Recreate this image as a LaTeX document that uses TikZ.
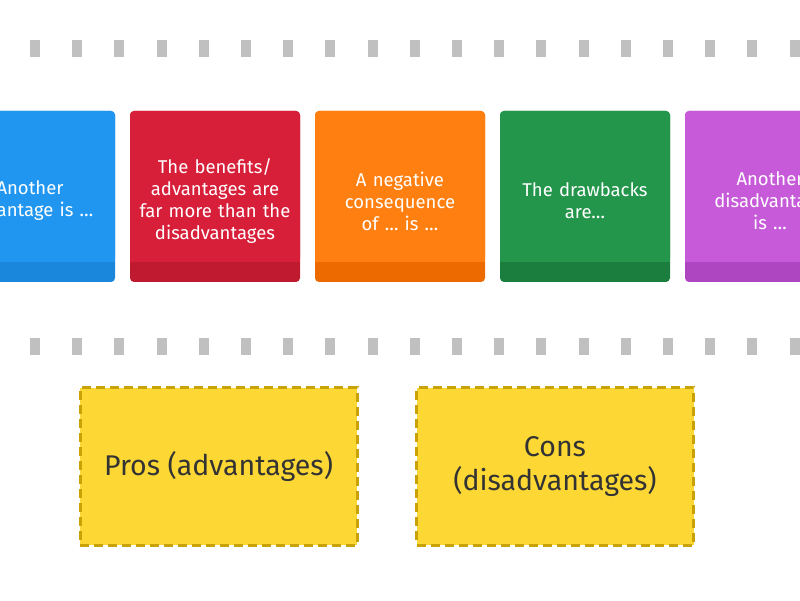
\documentclass[tikz,border=0pt]{standalone}
\usepackage{fontspec}
\setmainfont{Fira Sans}
\definecolor{cblue}{HTML}{2196F0}\definecolor{cblueD}{HTML}{1A86DC}
\definecolor{cred}{HTML}{D81F3A}\definecolor{credD}{HTML}{C01A30}
\definecolor{corange}{HTML}{FF7F10}\definecolor{corangeD}{HTML}{EC6A00}
\definecolor{cgreen}{HTML}{24964C}\definecolor{cgreenD}{HTML}{1C7E3E}
\definecolor{cpurple}{HTML}{C65AD8}\definecolor{cpurpleD}{HTML}{AE46C2}
\definecolor{ybox}{HTML}{FDD835}\definecolor{yline}{HTML}{C9A208}
\definecolor{dashc}{HTML}{C0C0C0}
\tikzset{
 cardtext/.style={text=white,align=center,font=\fontsize{18.5}{22}\selectfont,text width=165pt},
 ybx/.style={fill=ybox,draw=yline,line width=3pt,dash pattern=on 9pt off 5pt,minimum width=277pt,minimum height=157pt,align=center,font=\fontsize{28.5}{34}\selectfont,text=black!80},
}
\newcommand{\card}[5]{%
 \fill[#3,rounded corners=4pt] (#1,318) rectangle ++(170,171);
 \fill[#2,rounded corners=4pt] (#1,338) rectangle ++(170,151);
 \fill[#2] (#1,338) rectangle ++(170,10);
 \node[cardtext] (#4) at (#1+85,399) {#5};}
\begin{document}
\begin{tikzpicture}[x=1pt,y=1pt]
\useasboundingbox (0,0) rectangle (800,600);
\clip (0,0) rectangle (800,600);
\foreach \i in {0,...,18}{
 \fill[dashc] (30+42.2*\i,543) rectangle ++(10,17);
 \fill[dashc] (30+42.2*\i,245) rectangle ++(10,17);}
\card{-55}{cblue}{cblueD}{c1}{Another\\advantage is \dots}
\card{130}{cred}{credD}{c2}{The benefits/\\advantages are\\far more than the\\disadvantages}
\card{315}{corange}{corangeD}{c3}{A negative\\consequence\\of \dots\ is \dots}
\card{500}{cgreen}{cgreenD}{c4}{The drawbacks\\are\dots}
\card{685}{cpurple}{cpurpleD}{c5}{Another\\disadvantage\\is \dots}
\node[ybx] (pros) at (218.5,133.5) {Pros (advantages)};
\node[ybx] (cons) at (555,133.5) {Cons\\(disadvantages)};
\end{tikzpicture}
\end{document}
